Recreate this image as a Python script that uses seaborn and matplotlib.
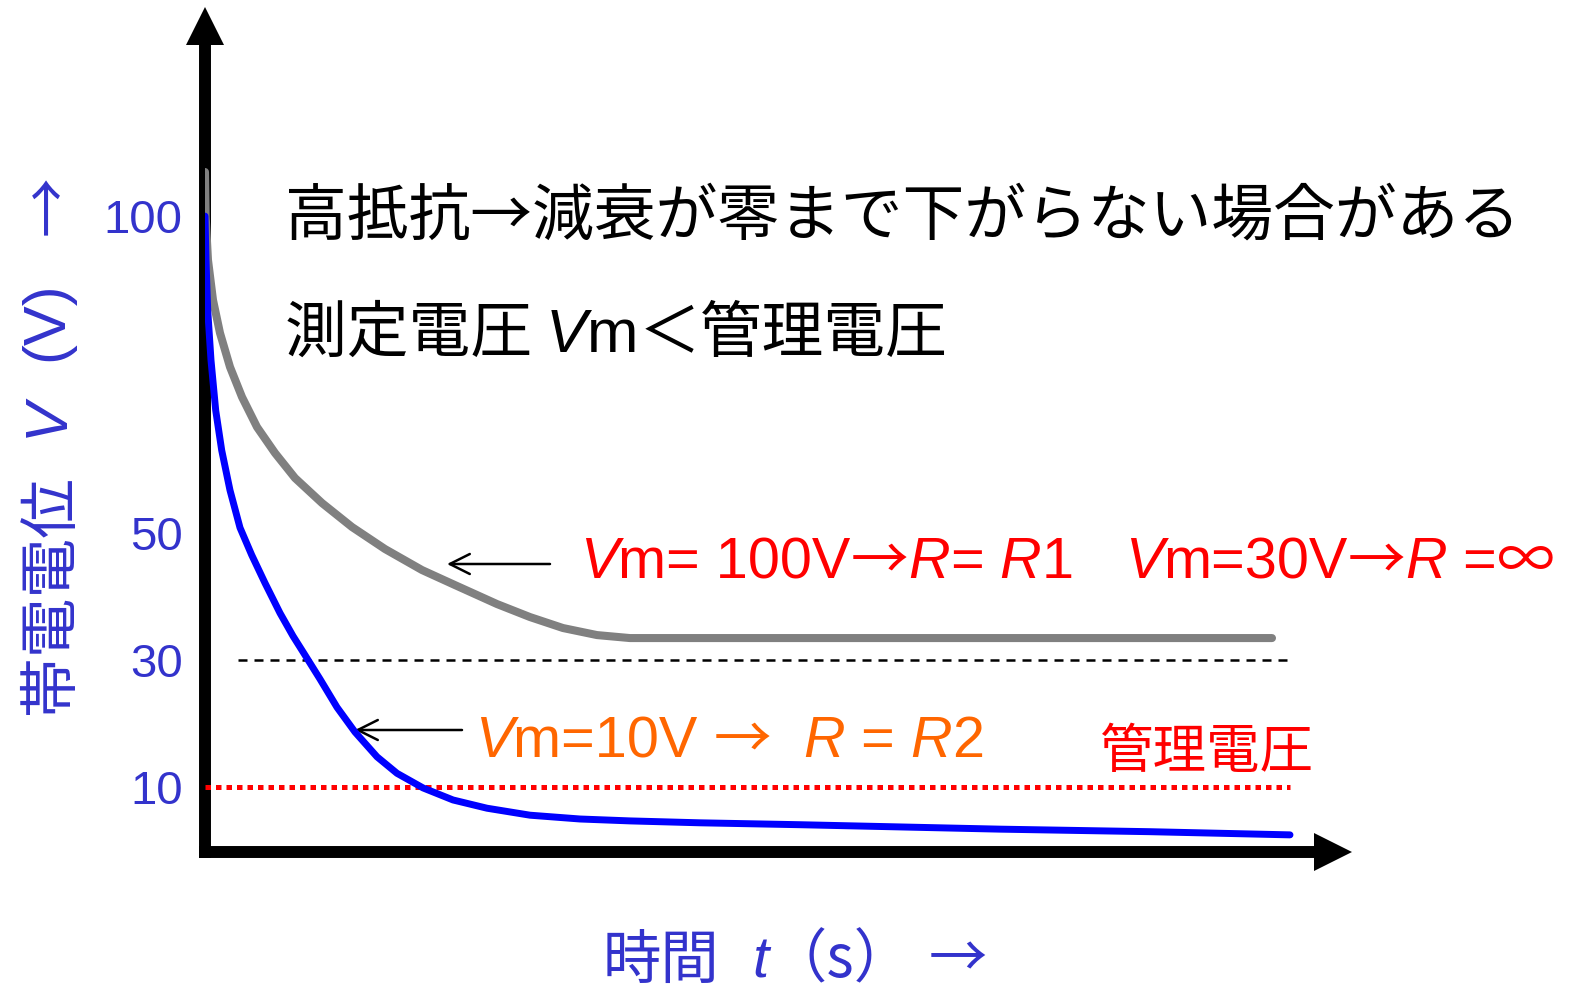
import matplotlib
matplotlib.use('Agg')
import matplotlib.pyplot as plt
import matplotlib.transforms as mtransforms
from matplotlib.offsetbox import TextArea, HPacker, AnnotationBbox
import seaborn as sns
import pandas as pd

# 減衰曲線
t_gray = [0, 0.0065, 0.0276, 0.0737, 0.1382, 0.2304, 0.341, 0.4793, 0.6452, 0.8295,
          1.0783, 1.3548, 1.659, 2.0, 2.3041, 2.6912, 2.9954, 3.2995, 3.6129, 3.9171, 9.8341]
v_gray = [106.95, 99.86, 93.08, 86.78, 81.58, 76.22, 71.49, 66.76, 62.67, 58.73,
          54.79, 51.01, 47.54, 44.23, 41.86, 38.87, 36.82, 35.09, 33.98, 33.51, 33.51]

t_blue = [0, 0.0092, 0.0249, 0.0553, 0.0986, 0.1539, 0.2304, 0.3226, 0.4304, 0.553,
          0.6912, 0.8111, 0.9217, 1.0599, 1.2166, 1.3825, 1.5853, 1.7696, 2.0092,
          2.2857, 2.5991, 2.9954, 3.4562, 3.9171, 4.5622, 5.4839, 7.3272, 8.7097, 10.0]
v_blue = [100.0, 93.08, 85.2, 77.3, 69.4, 63.1, 56.8, 50.9, 46.6, 42.18,
          37.45, 33.83, 30.83, 27.05, 22.6, 18.7, 14.8, 12.2, 9.9,
          8.0, 6.7, 5.6, 5.0, 4.7, 4.4, 4.1, 3.4, 3.0, 2.5]

y_ticks = [100, 50, 30, 10]
y_ticklabels = ['100', '50', '30', '10']
v_limit = 30      # 測定電圧 30V
v_kanri = 10      # 管理電圧

BLUE_TXT = '#3333CC'
CJK = ['Noto Sans CJK JP', 'DejaVu Sans']
LAT = ['Liberation Sans', 'DejaVu Sans']

sns.set_style('white')
plt.rcParams['font.family'] = CJK

W, H = 1573, 993
fig = plt.figure(figsize=(W / 100, H / 100), dpi=100)
ax = fig.add_axes([205 / W, (H - 852) / H, (1313 - 205) / W, (852 - 45) / H])
ax.set_xlim(0, 10.212)
ax.set_ylim(-0.2, 126.96)


def at(x, y):
    return (x / W, 1 - y / H)


df_gray = pd.DataFrame({'t': t_gray, 'V': v_gray})
df_blue = pd.DataFrame({'t': t_blue, 'V': v_blue})
sns.lineplot(data=df_gray, x='t', y='V', color='#808080', lw=5.8, ax=ax, zorder=3,
             estimator=None, sort=False)
sns.lineplot(data=df_blue, x='t', y='V', color='#0000FF', lw=5.0, ax=ax, zorder=4,
             estimator=None, sort=False)

ax.hlines(v_limit, 0.304, 10.0, color='black', lw=1.8, linestyles=(0, (3.6, 2.8)), zorder=2)
ax.hlines(v_kanri, 0, 10.0, color='#FF0000', lw=3.6, linestyles=(0, (1.1, 1.0)), zorder=2)

# 軸
for side in ['top', 'right']:
    ax.spines[side].set_visible(False)
for side in ['left', 'bottom']:
    ax.spines[side].set_linewidth(8.6)
    ax.spines[side].set_color('black')
    ax.spines[side].set_capstyle('projecting')
    ax.spines[side].set_zorder(1)

ax.set_xticks([])
ax.set_yticks(y_ticks)
ax.set_yticklabels(y_ticklabels, color=BLUE_TXT, fontsize=34, family=LAT)
ax.tick_params(axis='y', direction='in', length=22, width=6.5, color='black', pad=16)
ax.yaxis.get_major_ticks()[3].tick1line.set_visible(False)
ax.set_xlabel('')
ax.set_ylabel('')

tr_up = mtransforms.offset_copy(ax.transAxes, fig=fig, x=0, y=19, units='dots')
ax.plot([0], [1], marker='^', ms=27.4, color='black', mew=0, transform=tr_up, clip_on=False)
tr_right = mtransforms.offset_copy(ax.transAxes, fig=fig, x=20, y=0, units='dots')
ax.plot([1], [0], marker='>', ms=28, color='black', mew=0, transform=tr_right, clip_on=False)

# 注釈の矢印
arrow_kw = dict(arrowstyle='->,head_length=0.96,head_width=0.48', lw=1.8, color='black',
                mutation_scale=15, shrinkA=0, shrinkB=0)
ax.annotate('', xy=at(447, 564), xycoords='figure fraction',
            xytext=at(550, 564), textcoords='figure fraction', arrowprops=arrow_kw)
ax.annotate('', xy=at(355, 730), xycoords='figure fraction',
            xytext=at(462, 730), textcoords='figure fraction', arrowprops=arrow_kw)


def runs(parts, x, y, size, color):
    boxes = []
    for s, fam, style in parts:
        props = dict(fontsize=size, color=color, family=fam, fontstyle=style)
        boxes.append(TextArea(s, textprops=props))
    pack = HPacker(children=boxes, align='baseline', pad=0, sep=0)
    ab = AnnotationBbox(pack, at(x, y), xycoords='figure fraction',
                        box_alignment=(0, 0.5), frameon=False, pad=0)
    fig.add_artist(ab)


runs([('高抵抗→減衰が零まで下がらない場合がある', CJK, 'normal')], 285, 217, 44.5, 'black')
runs([('測定電圧 ', CJK, 'normal'), ('V', LAT, 'italic'), ('m', LAT, 'normal'),
      ('＜管理電圧', CJK, 'normal')], 285, 334, 44.5, 'black')

runs([('V', LAT, 'italic'), ('m= 100V', LAT, 'normal'), ('→', CJK, 'normal'),
      ('R', LAT, 'italic'), ('=', LAT, 'normal'), (' ', LAT, 'normal'),
      ('R', LAT, 'italic'), ('1', LAT, 'normal')], 580, 562, 41.5, '#FF0000')
runs([('V', LAT, 'italic'), ('m=30V', LAT, 'normal'), ('→', CJK, 'normal'),
      ('R', LAT, 'italic'), (' =', LAT, 'normal'), ('∞', CJK, 'normal')],
     1125, 562, 41.5, '#FF0000')
runs([('V', LAT, 'italic'), ('m=10V ', LAT, 'normal'), ('→', CJK, 'normal'),
      ('  ', LAT, 'normal'), ('R', LAT, 'italic'), (' =', LAT, 'normal'),
      (' ', LAT, 'normal'), ('R', LAT, 'italic'), ('2', LAT, 'normal')],
     475, 741, 41.5, '#FF6600')

fig.text(*at(1100, 753), '管理電圧', fontsize=38.5, color='#FF0000', ha='left', va='center')

# 軸ラベル
runs([('時間', CJK, 'normal'), ('  ', LAT, 'normal'), ('t', LAT, 'italic'),
      ('（s）', CJK, 'normal'), (' ', LAT, 'normal'), ('→', CJK, 'normal')],
     603, 961, 42, BLUE_TXT)

ylab_kw = dict(fontsize=43, color=BLUE_TXT, rotation=90, rotation_mode='anchor',
               ha='center', va='baseline')
fig.text(*at(68, 595), '帯電電位', **ylab_kw)
fig.text(*at(63, 417), 'V', family=LAT, fontstyle='italic', **ylab_kw)
fig.text(*at(62, 321), '(V)', family=LAT, **ylab_kw)
fig.text(*at(68, 205), '→', **ylab_kw)

fig.savefig('out.png', dpi=100)
